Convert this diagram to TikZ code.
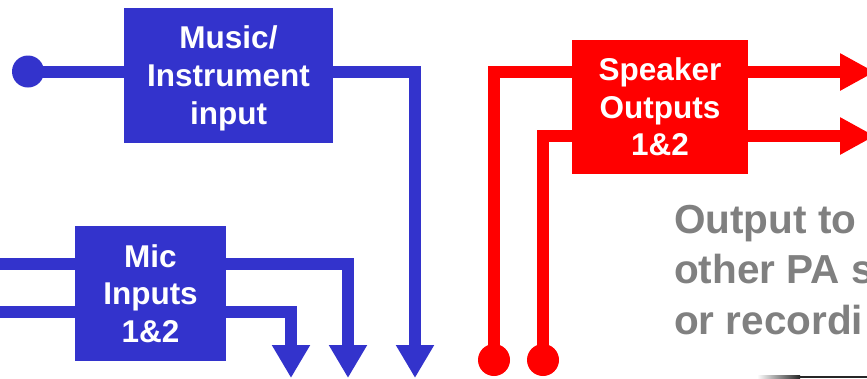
\documentclass[tikz,border=0pt]{standalone}
\usepackage{fontspec}
\setmainfont{Liberation Sans}
\usetikzlibrary{arrows.meta}
\definecolor{pablue}{HTML}{3333CC}
\definecolor{pared}{HTML}{FF0000}
\definecolor{pagray}{HTML}{808080}
\begin{document}
\begin{tikzpicture}[x=1pt,y=-1pt,
  box/.style={rectangle, inner sep=0pt, draw=none},
  bluebox/.style={box, fill=pablue},
  redbox/.style={box, fill=pared},
  boxtext/.style={text=white, font=\fontsize{31.5}{37.7}\selectfont\bfseries, align=center, inner sep=0pt},
  wire/.style={line width=12pt, line join=miter, line cap=butt},
  bwire/.style={wire, draw=pablue},
  rwire/.style={wire, draw=pared},
  barrow/.style={-{Triangle[width=36pt,length=33pt]}},
  rarrow/.style={-{Triangle[width=35pt,length=35pt]}},
  dot/.style={circle, inner sep=0pt, minimum size=32pt, draw=none},
]
\useasboundingbox (0,0) rectangle (867,378);
\fill[white] (0,0) rectangle (867,378);
\clip (0,0) rectangle (867,378);

% boxes
\node[bluebox, minimum width=209pt, minimum height=135pt] (music) at (228.5,75.5) {};
\node[bluebox, minimum width=151pt, minimum height=135pt] (mic) at (150.5,293.5) {};
\node[redbox, minimum width=176pt, minimum height=134pt] (speaker) at (660,107) {};

\node[boxtext] (musict) at (228.5,78.5) {Music/\\Instrument\\input};
\node[boxtext] (mict) at (150.5,293.5) {Mic\\Inputs\\1\&2};
\node[boxtext] (speakert) at (660,107) {Speaker\\Outputs\\1\&2};

% coordinates
\coordinate (mdown) at (415,378);
\coordinate (micin1) at (0,263.5);
\coordinate (micin2) at (0,312);
\coordinate (micdown1) at (348,378);
\coordinate (micdown2) at (291,378);
\coordinate (spin1) at (572,72);
\coordinate (spin2) at (572,136);
\coordinate (spout1) at (875,72);
\coordinate (spout2) at (875,136);

% music input
\node[dot, fill=pablue] (mdot) at (28,71.5) {};
\draw[bwire] (mdot.center) -- (mdot -| music.west);
\draw[bwire, barrow] (mdot -| music.east) -| (mdown);

% mic inputs
\draw[bwire] (micin1) -- (micin1 -| mic.west);
\draw[bwire] (micin2) -- (micin2 -| mic.west);
\draw[bwire, barrow] (micin1 -| mic.east) -| (micdown1);
\draw[bwire, barrow] (micin2 -| mic.east) -| (micdown2);

% speaker
\node[dot, fill=pared] (rdot1) at (494,360) {};
\node[dot, fill=pared] (rdot2) at (543,360) {};
\draw[rwire] (rdot1.center) |- (spin1);
\draw[rwire] (rdot2.center) |- (spin2);
\draw[rwire, rarrow] (spin1 -| speaker.east) -- (spout1);
\draw[rwire, rarrow] (spin2 -| speaker.east) -- (spout2);

% note text (cropped at the right edge, as in the reference)
\node[anchor=north west, inner sep=0pt, text=pagray, align=left,
      font=\fontsize{40.5}{50.5}\selectfont\bfseries] (note) at (674,205)
      {Output to\\other PA s\\or recordi};

% cropped picture edge at bottom right
\shade[left color=white, right color=black!85] (757,375.5) rectangle (800,378);
\fill[black!85] (800,375.5) rectangle (867,378);
\end{tikzpicture}
\end{document}
